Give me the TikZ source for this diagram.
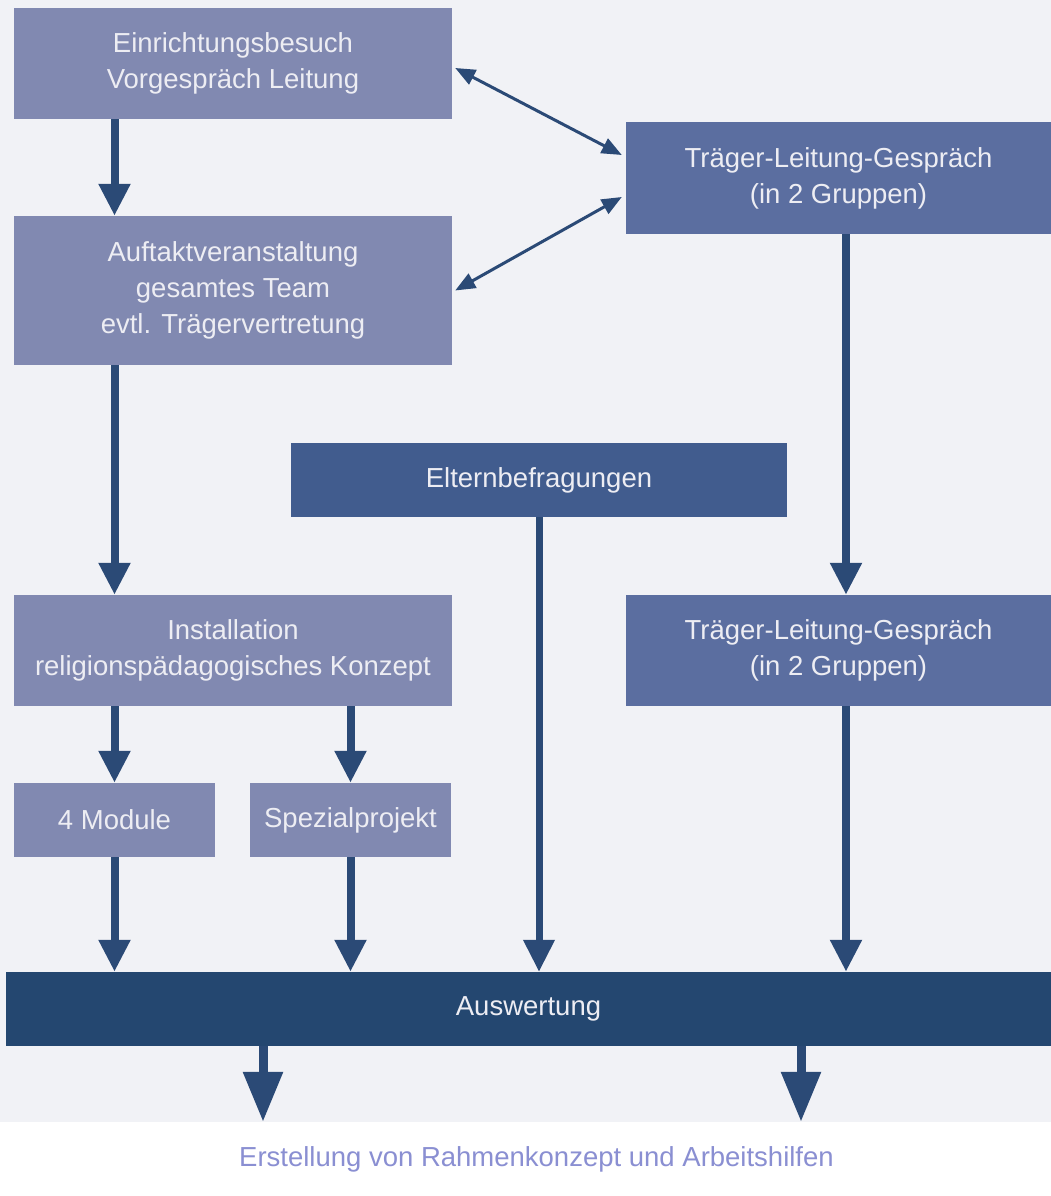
\documentclass[tikz,border=0pt]{standalone}
\usepackage{fontspec}
\setmainfont{Liberation Sans}
\usetikzlibrary{arrows.meta}
\definecolor{bg}{HTML}{F1F2F6}
\definecolor{lightbox}{HTML}{8189B1}
\definecolor{midbox}{HTML}{5B6EA0}
\definecolor{eltbox}{HTML}{415C8E}
\definecolor{darkbox}{HTML}{244770}
\definecolor{arrcol}{HTML}{2B4A76}
\definecolor{boxtext}{HTML}{EDEDF3}
\definecolor{finaltext}{HTML}{8A8FD2}
\tikzset{
  box/.style={rectangle, inner sep=0pt, text=boxtext, align=center,
    font=\fontsize{27.5}{36}\selectfont},
  arr/.style={draw=arrcol, line width=8pt, -{Triangle[width=30pt,length=32pt]}},
  thinarr/.style={draw=arrcol, line width=3pt, {Triangle[width=16pt,length=20pt]}-{Triangle[width=16pt,length=20pt]}},
  bigarr/.style={draw=arrcol, line width=9pt, -{Triangle[width=38pt,length=50pt]}},
}
\begin{document}
\begin{tikzpicture}[x=1pt,y=-1pt]
\useasboundingbox (0,0) rectangle (1051,1196);
\fill[bg] (0,0) rectangle (1051,1196);

\node[box, fill=lightbox, minimum width=438pt, minimum height=111pt] (b1) at (233,63.5)
  {Einrichtungsbesuch\\Vorgespräch Leitung};
\node[box, fill=lightbox, minimum width=438pt, minimum height=149pt] (b2) at (233,290.5)
  {Auftaktveranstaltung\\gesamtes Team\\evtl. Trägervertretung};
\node[box, fill=midbox, minimum width=425pt, minimum height=112pt] (b3) at (838.5,178)
  {Träger-Leitung-Gespräch\\(in 2 Gruppen)};
\node[box, fill=eltbox, minimum width=496pt, minimum height=74pt] (elt) at (539,480)
  {Elternbefragungen};
\node[box, fill=lightbox, minimum width=438pt, minimum height=111pt] (inst) at (233,650.5)
  {Installation\\religionspädagogisches Konzept};
\node[box, fill=midbox, minimum width=425pt, minimum height=111pt] (b5) at (838.5,650.5)
  {Träger-Leitung-Gespräch\\(in 2 Gruppen)};
\node[box, fill=lightbox, minimum width=201pt, minimum height=74pt] (mod) at (114.5,820)
  {4 Module};
\node[box, fill=lightbox, minimum width=201pt, minimum height=74pt] (spez) at (350.5,820)
  {Spezialprojekt};
\node[box, fill=darkbox, minimum width=1045pt, minimum height=74pt] (ausw) at (528.5,1009)
  {Auswertung};
\node[rectangle, fill=white, inner sep=0pt, minimum width=1051pt, minimum height=74pt,
  text=finaltext, font=\fontsize{27.5}{30}\selectfont] (fin) at (525.5,1159)
  {\hspace*{22pt}Erstellung von Rahmenkonzept und Arbeitshilfen};

% vertical arrows
\draw[arr] (mod.north |- b1.south) -- (mod.north |- b2.north);
\draw[arr] (mod.north |- b2.south) -- (mod.north |- inst.north);
\draw[arr] (mod.north |- inst.south) -- (mod.north);
\draw[arr] (spez.north |- inst.south) -- (spez.north);
\draw[arr] (mod.south) -- (mod.south |- ausw.north);
\draw[arr] (spez.south) -- (spez.south |- ausw.north);
\draw[arr, line width=7pt] (elt.south) -- (elt.south |- ausw.north);
\draw[arr] ([xshift=7.5pt]b3.south) -- ([xshift=7.5pt]b5.north);
\draw[arr] ([xshift=7.5pt]b5.south) -- ([xshift=7.5pt]b5.south |- ausw.north);

% double arrows
\draw[thinarr] ([xshift=3pt,yshift=-4.5pt]b1.east) -- ([xshift=-4pt,yshift=23pt]b3.west);
\draw[thinarr] ([xshift=3pt]b2.east) -- ([xshift=-4pt,yshift=-19pt]b3.west);

% output arrows
\draw[bigarr] ([xshift=263pt]ausw.south west -| 0,0) -- ([xshift=263pt]fin.north west -| 0,0);
\draw[bigarr] ([xshift=801pt]ausw.south west -| 0,0) -- ([xshift=801pt]fin.north west -| 0,0);
\end{tikzpicture}
\end{document}
